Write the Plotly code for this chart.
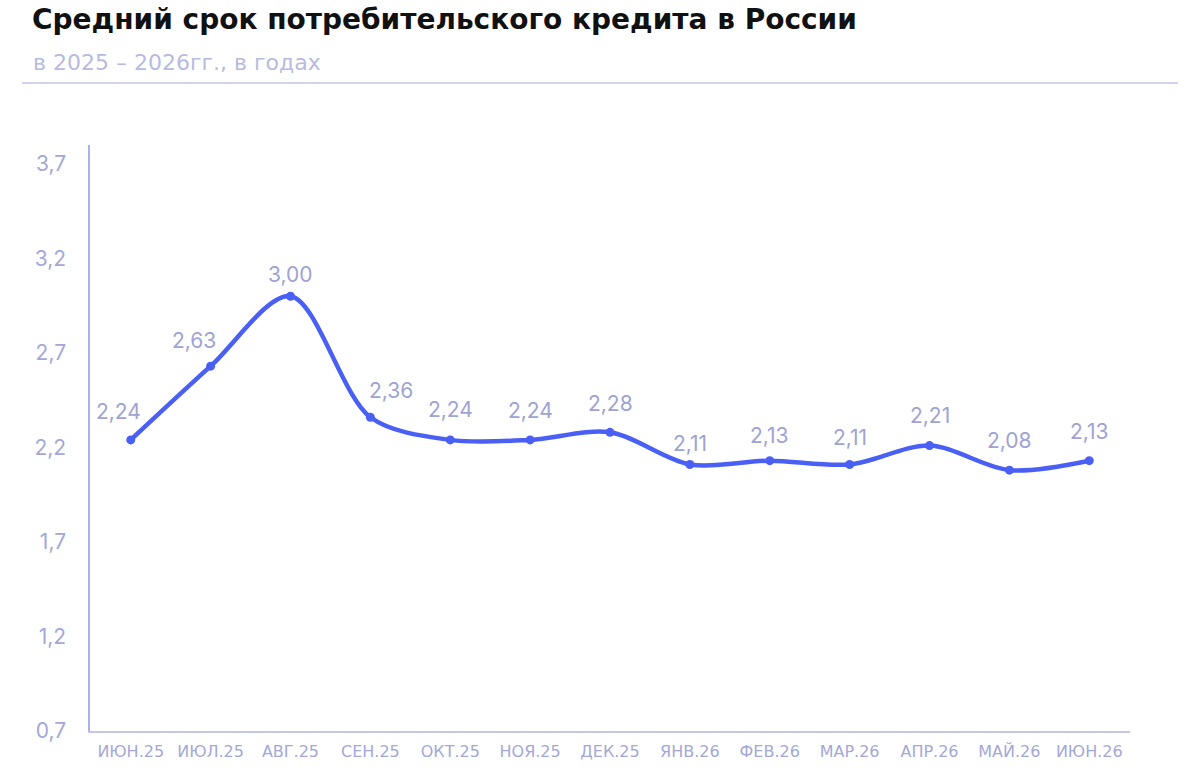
import plotly.graph_objects as go

months = ["ИЮН.25", "ИЮЛ.25", "АВГ.25", "СЕН.25", "ОКТ.25", "НОЯ.25", "ДЕК.25",
          "ЯНВ.26", "ФЕВ.26", "МАР.26", "АПР.26", "МАЙ.26", "ИЮН.26"]
values = [2.24, 2.63, 3.00, 2.36, 2.24, 2.24, 2.28, 2.11, 2.13, 2.11, 2.21, 2.08, 2.13]
y_ticks = [0.7, 1.2, 1.7, 2.2, 2.7, 3.2, 3.7]

# label nudges (px) to keep labels off the line
label_dx = [-12, -17, 0, 21, 0, 0, 0, 0, 0, 0, 0, 0, 0]
label_dy = [28, 26, 22, 27, 30, 29, 29, 21, 25, 27, 30, 30, 29]

LINE = "#4a5ff5"
LABEL = "#9ea3d4"
TICK = "#a3a8d8"

fig = go.Figure()
fig.add_trace(go.Scatter(
    x=list(range(len(months))), y=values, mode="lines+markers",
    line=dict(color=LINE, width=4.5, shape="spline", smoothing=0.9),
    marker=dict(color=LINE, size=9),
    hoverinfo="skip", showlegend=False,
))

for i, (v, dx, dy) in enumerate(zip(values, label_dx, label_dy)):
    fig.add_annotation(
        x=i, y=v, text=f"{v:.2f}".replace(".", ","), showarrow=False,
        xshift=dx, yshift=dy, yanchor="middle",
        font=dict(family="Inter, Noto Sans, sans-serif", size=21, color=LABEL),
    )

# plot area: x 90..1130, y 145..731
fig.add_annotation(
    xref="paper", yref="paper", x=(31 - 90) / 1040, y=(731 - 62) / 586,
    xanchor="left", yanchor="middle", showarrow=False,
    text="в 2025 – 2026гг., в годах",
    font=dict(family="DejaVu Sans, sans-serif", size=22, color="#b7bbe0"),
)
fig.add_shape(type="line", xref="paper", yref="paper",
              x0=(22 - 90) / 1040, x1=(1178 - 90) / 1040,
              y0=(731 - 83) / 586, y1=(731 - 83) / 586,
              line=dict(color="#c3c6e6", width=1.5))

fig.update_layout(
    width=1200, height=780,
    margin=dict(l=90, r=70, t=145, b=49),
    paper_bgcolor="white", plot_bgcolor="white",
    separators=", ",
    title=dict(text="<b>Средний срок потребительского кредита в России</b>",
               xref="container", yref="container", x=32 / 1200, xanchor="left",
               y=1 - 19 / 780, yanchor="middle",
               font=dict(family="DejaVu Sans, sans-serif", size=28, color="#111111")),
    xaxis=dict(
        tickmode="array", tickvals=list(range(len(months))), ticktext=months,
        range=[-0.51, len(months) - 0.49], showgrid=False, zeroline=False,
        showline=True, linecolor="#c3c6e6", linewidth=2,
        tickfont=dict(family="DejaVu Sans, sans-serif", size=16, color=TICK),
        ticks="", ticklabelstandoff=5,
    ),
    yaxis=dict(
        tickmode="array", tickvals=y_ticks,
        ticktext=[f"{t:.1f}".replace(".", ",") for t in y_ticks],
        range=[0.7, 3.8], showgrid=False, zeroline=False,
        showline=True, linecolor="#a9b0ea", linewidth=1.5,
        tickfont=dict(family="Inter, Noto Sans, sans-serif", size=21, color=TICK),
        ticks="", ticklabelstandoff=18,
    ),
)

fig.write_html("out.html")
